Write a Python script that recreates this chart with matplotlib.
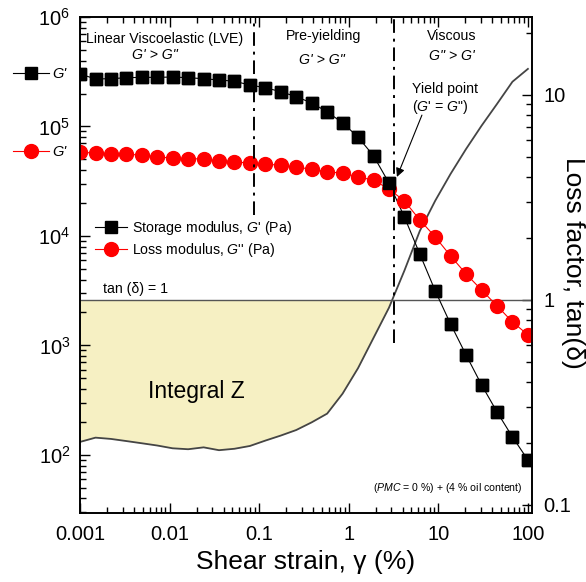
import matplotlib

matplotlib.use("Agg")

import matplotlib.pyplot as plt
from matplotlib.lines import Line2D
import numpy as np

plt.rcParams["font.family"] = ["Liberation Sans", "DejaVu Sans"]
plt.rcParams["mathtext.fontset"] = "custom"
plt.rcParams["mathtext.rm"] = "Liberation Sans"
plt.rcParams["mathtext.it"] = "Liberation Sans:italic"
plt.rcParams["mathtext.bf"] = "Liberation Sans:bold"

# amplitude sweep, shear strain in %
strain = [0.001, 0.00149, 0.00221, 0.00329, 0.00489, 0.00728, 0.0108, 0.0161,
          0.0240, 0.0356, 0.0530, 0.0788, 0.117, 0.174, 0.259, 0.386, 0.574,
          0.853, 1.27, 1.89, 2.81, 4.18, 6.21, 9.24, 13.7, 20.4, 30.4, 45.2,
          67.2, 100]

# storage modulus G' (Pa)
g_storage = [301e3, 272e3, 273e3, 279e3, 281e3, 281e3, 283e3, 279e3, 273e3,
             266e3, 259e3, 239e3, 226e3, 208e3, 187e3, 164e3, 136e3, 108e3,
             80e3, 54e3, 30.5e3, 14.9e3, 6.85e3, 3.15e3, 1.57e3, 819, 436,
             247, 146, 90]

# loss modulus G'' (Pa)
g_loss = [58.5e3, 56.9e3, 56.1e3, 55.7e3, 54.9e3, 53.0e3, 51.2e3, 50.8e3,
          50.5e3, 48.4e3, 47.7e3, 46.1e3, 45.5e3, 44.1e3, 42.3e3, 40.9e3,
          38.4e3, 37.6e3, 34.6e3, 32.4e3, 26.8e3, 20.9e3, 14.0e3, 9.8e3,
          6.57e3, 4.50e3, 3.21e3, 2.30e3, 1.64e3, 1.25e3]

# loss factor tan(delta)
tan_delta = [0.203, 0.213, 0.210, 0.205, 0.200, 0.195, 0.189, 0.187, 0.191,
             0.185, 0.188, 0.194, 0.206, 0.218, 0.232, 0.253, 0.279, 0.349,
             0.465, 0.653, 0.916, 1.39, 2.17, 3.05, 4.12, 5.45, 7.08, 9.04,
             11.6, 13.4]

lve_limit = 0.088     # end of the linear viscoelastic range (%)
yield_strain = 3.2    # crossover G' = G'' (%)

params = {
    "square_size": 9,
    "circle_size": 10,
    "tick_size": 14.5,
    "label_size": 19,
    "text_size": 10.2,
    "fill": "#f6f0c3",
    "tan_color": "#454545",
}

fig = plt.figure(figsize=(5.86, 5.82), dpi=100)
ax = fig.add_axes([0.1365, 0.1186, 0.7713, 0.8522])
ax2 = ax.twinx()

# keep moduli on top of the loss-factor axis
ax.set_zorder(ax2.get_zorder() + 1)
ax.patch.set_visible(False)

# loss factor, with the area below tan(delta) = 1 shaded
tan_arr = np.array(tan_delta)
ax2.fill_between(strain, tan_arr, 1, where=tan_arr <= 1, interpolate=True,
                 color=params["fill"], linewidth=0)
ax2.plot(strain, tan_delta, color=params["tan_color"], lw=1.3)
ax2.axhline(1, color="#555555", lw=1.0)

storage_line, = ax.plot(strain, g_storage, color="black", lw=0.8, marker="s",
                        ms=params["square_size"], mfc="black", mec="black",
                        label="Storage modulus, $G$' (Pa)")
loss_line, = ax.plot(strain, g_loss, color="red", lw=0.8, marker="o",
                     ms=params["circle_size"], mfc="red", mec="red",
                     label="Loss modulus, $G$'' (Pa)")
ax.plot(strain, g_storage, color="black", lw=0, marker="s",
        ms=params["square_size"], mfc="black", mec="black", zorder=3)

# region boundaries
dashdot = (0, (7, 3, 1.5, 3))
ax.plot([lve_limit, lve_limit], [15.6e3, 1e6], color="black", lw=1.4,
        linestyle=dashdot)
ax.plot([yield_strain, yield_strain], [1.05e3, 1e6], color="black", lw=1.4,
        linestyle=dashdot)

ax.set_xscale("log")
ax.set_yscale("log")
ax2.set_yscale("log")
ax.set_xlim(0.001, 111)
ax.set_ylim(29.5, 1e6)
ax2.set_ylim(0.0914, 24)

ax.set_xticks([0.001, 0.01, 0.1, 1, 10, 100])
ax.set_xticklabels(["0.001", "0.01", "0.1", "1", "10", "100"])
ax2.set_yticks([0.1, 1, 10])
ax2.set_yticklabels(["0.1", "1", "10"])

for a in (ax, ax2):
    for side in a.spines.values():
        side.set_linewidth(1.2)
ax.tick_params(which="both", direction="in", top=True, right=False,
               labelsize=params["tick_size"], width=1.0)
ax.tick_params(which="major", length=7)
ax.tick_params(which="minor", length=4)
ax.tick_params(axis="x", pad=9)
ax.tick_params(axis="y", pad=7)
ax2.tick_params(which="both", direction="in", labelsize=params["tick_size"],
                width=1.0, pad=8)
ax2.tick_params(which="major", length=7)
ax2.tick_params(which="minor", length=4)

ax.set_xlabel("Shear strain, \u03b3 (%)", fontsize=params["label_size"],
              labelpad=4)
# right-hand label sits close to the spine, next to the tick labels
fig.text(573 / 586, 1 - 263 / 582, "Loss factor, tan(\u03b4)",
         fontsize=params["label_size"], rotation=270, ha="center",
         va="center")

# annotations
ts = params["text_size"]
ax.text(0.188, 0.956, "Linear Viscoelastic (LVE)", transform=ax.transAxes,
        ha="center", va="center", fontsize=ts)
ax.text(0.166, 0.923, "G' > G\"", transform=ax.transAxes, ha="center",
        va="center", fontsize=ts, style="italic")
ax.text(0.538, 0.962, "Pre-yielding", transform=ax.transAxes, ha="center",
        va="center", fontsize=ts)
ax.text(0.535, 0.913, "G' > G\"", transform=ax.transAxes, ha="center",
        va="center", fontsize=ts, style="italic")
ax.text(0.823, 0.962, "Viscous", transform=ax.transAxes, ha="center",
        va="center", fontsize=ts)
ax.text(0.823, 0.921, "G\" > G'", transform=ax.transAxes, ha="center",
        va="center", fontsize=ts, style="italic")
ax.text(0.808, 0.855, "Yield point", transform=ax.transAxes, ha="center",
        va="center", fontsize=ts)
ax.text(0.735, 0.819, "($G$' = $G$\")", transform=ax.transAxes, ha="left",
        va="center", fontsize=ts)
ax.annotate("", xy=(3.45, 34.6e3), xytext=(6.56, 127e3),
            arrowprops=dict(arrowstyle="-|>", color="black", lw=0.8,
                            mutation_scale=13, shrinkA=0, shrinkB=0))
ax.text(0.051, 0.452, "tan (\u03b4) = 1", transform=ax.transAxes, ha="left",
        va="center", fontsize=ts)
ax.text(0.257, 0.244, "Integral Z", transform=ax.transAxes, ha="center",
        va="center", fontsize=16.5)
ax.text(0.980, 0.050, "($PMC$ = 0 %) + (4 % oil content)",
        transform=ax.transAxes, ha="right", va="center", fontsize=7.6)

ax.legend(handles=[storage_line, loss_line], loc="upper left",
          bbox_to_anchor=(0.033, 0.592), frameon=False, fontsize=ts,
          handlelength=2.3, handletextpad=0.35, labelspacing=0.25,
          borderpad=0, borderaxespad=0)

# keys at the left edge of the figure
key_storage = Line2D([], [], color="black", lw=0.8, marker="s",
                     ms=params["square_size"], mfc="black", mec="black")
key_loss = Line2D([], [], color="red", lw=0.8, marker="o",
                  ms=params["circle_size"], mfc="red", mec="red")
for key, ypx in ((key_storage, 74), (key_loss, 152)):
    leg = fig.legend(handles=[key], labels=["G'"], loc="center left",
                     bbox_to_anchor=(13 / 586, 1 - ypx / 582), frameon=False,
                     prop={"size": 10.5, "style": "italic"},
                     handlelength=2.45, handletextpad=0.25, borderpad=0,
                     borderaxespad=0)

plt.savefig("out.png", dpi=100)
